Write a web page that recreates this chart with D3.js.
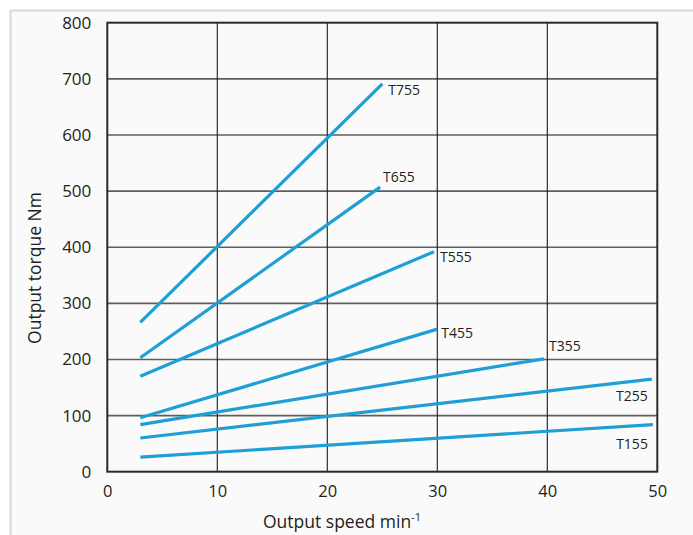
<!DOCTYPE html>
<html><head><meta charset="utf-8">
<script src="https://cdn.jsdelivr.net/npm/d3@7"></script>
<style>body{margin:0;background:#fff;} svg{display:block;} text{font-family:"Open Sans",sans-serif;fill:#231f20;}</style>
</head><body><svg id="c" width="693" height="535"></svg>
<script>
const models = ["T755","T655","T555","T455","T355","T255","T155"];
const speedStart = [3, 3, 3, 3, 3, 3, 3];
const speedEnd = [25, 24.8, 29.7, 30, 39.7, 49.5, 49.6];
const torqueStart = [266, 203, 170, 96, 84, 60, 26];
const torqueEnd = [691, 507, 392, 254, 201, 165, 84];
const xTicks = [0,10,20,30,40,50];
const yTicks = [0,100,200,300,400,500,600,700,800];

const svg = d3.select("#c");
const L=107.3, R=657.3, T=22.7, B=471.7;
svg.append("rect").attr("x",10.5).attr("y",10.5).attr("width",700).attr("height",600)
  .attr("fill","#fafafa").attr("stroke","#d8d8d8").attr("stroke-width",2);

const x = d3.scaleLinear().domain([0,50]).range([L,R]);
const y = d3.scaleLinear().domain([0,800]).range([B,T]);

// horizontal grid
svg.append("g").selectAll("line").data(yTicks.slice(1,-1)).join("line")
  .attr("x1",L).attr("x2",R).attr("y1",d=>y(d)).attr("y2",d=>y(d))
  .attr("stroke","#5e5e5e").attr("stroke-width",1.6);
// vertical grid
svg.append("g").selectAll("line").data(xTicks.slice(1,-1)).join("line")
  .attr("y1",T).attr("y2",B).attr("x1",d=>x(d)).attr("x2",d=>x(d))
  .attr("stroke","#1a1a1a").attr("stroke-width",1.1);
// frame
svg.append("rect").attr("x",L).attr("y",T).attr("width",R-L).attr("height",B-T)
  .attr("fill","none").attr("stroke","#2a2a2a").attr("stroke-width",2);

// axes
const yAxis = d3.axisLeft(y).tickValues(yTicks).tickSize(0).tickPadding(16);
const gy = svg.append("g").attr("transform",`translate(${L},0)`).call(yAxis);
gy.select(".domain").remove();
gy.selectAll("text").attr("font-size",17).style("font-family","Open Sans").attr("fill","#231f20");
const xAxis = d3.axisBottom(x).tickValues(xTicks).tickSize(0).tickPadding(14);
const gx = svg.append("g").attr("transform",`translate(0,${B})`).call(xAxis);
gx.select(".domain").remove();
gx.selectAll("text").attr("font-size",16.5).style("font-family","Open Sans").attr("fill","#231f20");

// lines
const data = models.map((m,i)=>({m, x0:speedStart[i], x1:speedEnd[i], y0:torqueStart[i], y1:torqueEnd[i]}));
svg.append("g").selectAll("line").data(data).join("line")
  .attr("x1",d=>x(d.x0)).attr("y1",d=>y(d.y0)).attr("x2",d=>x(d.x1)).attr("y2",d=>y(d.y1))
  .attr("stroke","#1e9fd6").attr("stroke-width",3.2);

// labels
const off = {T755:[6,11,"start"],T655:[3,-5,"start"],T555:[6,10,"start"],T455:[4,9,"start"],
  T355:[5,-8,"start"],T255:[-4,22,"end"],T155:[-5,24,"end"]};
svg.append("g").selectAll("text").data(data).join("text")
  .attr("x",d=>x(d.x1)+off[d.m][0]).attr("y",d=>y(d.y1)+off[d.m][1])
  .attr("text-anchor",d=>off[d.m][2]).attr("font-size",14).text(d=>d.m);

// titles
const xt = svg.append("text").attr("x",263).attr("y",528).attr("font-size",17.5);
xt.append("tspan").text("Output speed min");
xt.append("tspan").attr("font-size",11).attr("dy",-7).text("-1");
svg.append("text").attr("transform","translate(41,268) rotate(-90)").attr("text-anchor","middle")
  .attr("font-size",17.5).text("Output torque Nm");
</script></body></html>
